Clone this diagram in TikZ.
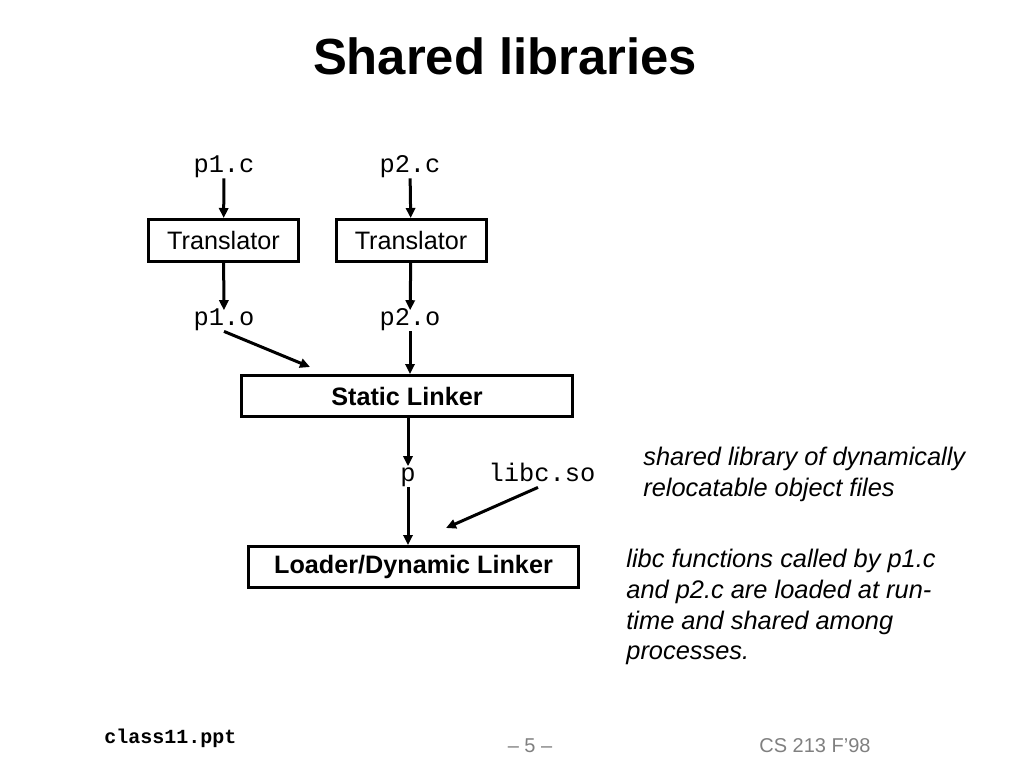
\documentclass[tikz,border=0pt]{standalone}
\usepackage{fontspec}
\setmainfont{Liberation Sans}
\setmonofont{Liberation Mono}
\usepackage{xcolor}
\usetikzlibrary{arrows.meta}
\definecolor{footgray}{RGB}{128, 128, 128}
\tikzset{
    stage/.style={draw, line width=1.5pt, inner sep=0pt, font=\fontsize{12.6}{15}\selectfont},
    fname/.style={anchor=base, inner sep=1pt, text height=0.62em, text depth=0.2em, font=\ttfamily\fontsize{12.7}{15}\selectfont},
    note/.style={inner sep=0pt, align=left, font=\itshape\fontsize{12.7}{15.3}\selectfont},
    arr/.style={line width=1.5pt, -{Triangle[length=5pt, width=4.6pt]}}
}

\begin{document}
\begin{tikzpicture}[x=0.5pt, y=-0.5pt]
    \useasboundingbox[fill=white] (0,0) rectangle (1024,768);

    % title
    \node[anchor=base, inner sep=0pt, font=\bfseries\fontsize{25.4}{30}\selectfont] (title) at (505,74) {Shared libraries};

    % source and object files
    \node[fname] (p1c) at (224,172) {p1.c};
    \node[fname] (p2c) at (410,172) {p2.c};
    \node[stage, minimum width=75pt, minimum height=21pt] (tr1) at (223.5,240.5) {Translator};
    \node[stage, minimum width=75pt, minimum height=21pt] (tr2) at (411,240.5) {Translator};
    \node[fname] (p1o) at (224,325) {p1.o};
    \node[fname] (p2o) at (410,325) {p2.o};

    % linkers
    \node[stage, minimum width=165.5pt, minimum height=20.5pt, font=\bfseries\fontsize{12.6}{15}\selectfont] (slink) at (407,396) {Static Linker};
    \node[fname] (prog) at (408,481) {p};
    \node[fname] (libc) at (542,481) {libc.so};
    \node[stage, minimum width=165pt, minimum height=20.5pt, font=\bfseries\fontsize{12.6}{15}\selectfont] (loader) at (413.5,567) {Loader/Dynamic Linker};

    \coordinate (slink-in) at (310,367);
    \coordinate (loader-in) at (446,528);

    % connectors
    \draw[arr] (p1c) -- (tr1);
    \draw[arr] (p2c) -- (tr2);
    \draw[arr] (tr1) -- (p1o);
    \draw[arr] (tr2) -- (p2o);
    \draw[arr] (p1o.south) -- (slink-in);
    \draw[arr] (p2o) -- (p2o |- slink.north);
    \draw[arr] (slink.south -| prog) -- (prog);
    \draw[arr] (prog) -- (prog |- loader.north);
    \draw[arr] ([xshift=-2pt]libc.south) -- (loader-in);

    % notes
    \node[note, anchor=north west] (libnote) at (643,447) {shared library of dynamically\\relocatable object files};
    \node[note, anchor=north west] (usenote) at (626,549) {libc functions called by p1.c\\and p2.c are loaded at run-\\time and shared among\\processes.};

    % footer
    \node[anchor=base west, inner sep=0pt, font=\ttfamily\bfseries\fontsize{10}{12}\selectfont] (file) at (104,743) {class11.ppt};
    \node[anchor=base, inner sep=0pt, text=footgray, font=\fontsize{10}{12}\selectfont] (page) at (530,752) {-- 5 --};
    \node[anchor=base, inner sep=0pt, text=footgray, font=\fontsize{10}{12}\selectfont] (course) at (815,752) {CS 213 F'98};
\end{tikzpicture}
\end{document}
